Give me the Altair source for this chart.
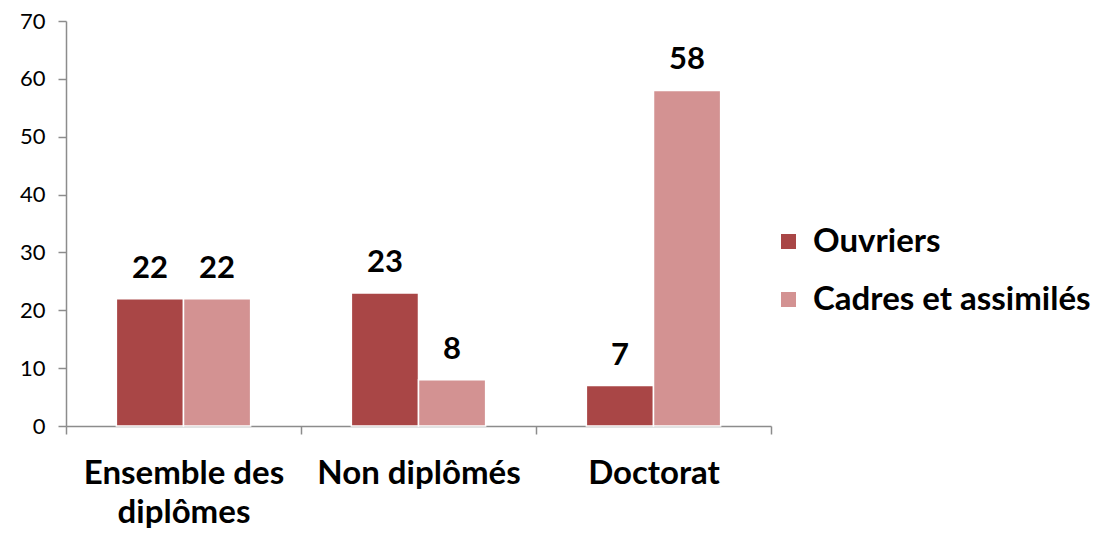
import altair as alt
import pandas as pd

categories = ["Ensemble des diplômes", "Non diplômés", "Doctorat"]
series = ["Ouvriers", "Cadres et assimilés"]
ouvriers = [22, 23, 7]
cadres = [22, 8, 58]
colors = ["#A94646", "#D39292"]

rows = []
for c, o, k in zip(categories, ouvriers, cadres):
    rows.append({"cat": c, "serie": series[0], "val": o})
    rows.append({"cat": c, "serie": series[1], "val": k})
df = pd.DataFrame(rows)

FONT = "Lato"

x = alt.X("cat:N", sort=categories, title=None,
          scale=alt.Scale(paddingInner=0, paddingOuter=0),
          axis=alt.Axis(labelAngle=0, labelFontSize=33, labelFontWeight="bold",
                        labelColor="#000000", labelFont=FONT, labelPadding=23,
                        labelLineHeight=39, labelBaseline="top", labelLimit=0,
                        labelExpr="datum.value == 'Ensemble des diplômes' ? ['Ensemble des', 'diplômes'] : datum.value",
                        tickBand="extent", tickSize=8, tickColor="#8c8c8c",
                        domainColor="#8c8c8c", domainWidth=1.5, tickWidth=1.5))
xo = alt.XOffset("serie:N", sort=series,
                 scale=alt.Scale(paddingInner=0, paddingOuter=0.75))
y = alt.Y("val:Q", title=None,
          scale=alt.Scale(domain=[0, 70]),
          axis=alt.Axis(values=list(range(0, 71, 10)), labelFontSize=22,
                        labelFont=FONT, labelColor="#000000", labelPadding=13,
                        tickSize=8, tickColor="#8c8c8c", domainColor="#8c8c8c",
                        domainWidth=1.5, tickWidth=1.5, grid=False))
color = alt.Color("serie:N", sort=series,
                  scale=alt.Scale(domain=series, range=colors),
                  legend=alt.Legend(title=None, orient="none", legendX=706, legendY=204,
                                    symbolType="square", symbolSize=225,
                                    symbolStrokeWidth=0, labelLimit=0,
                                    labelFontSize=33, labelFontWeight="bold",
                                    labelFont=FONT, labelColor="#000000",
                                    rowPadding=24, labelOffset=8))

bars = alt.Chart(df).mark_bar(stroke="white", strokeWidth=1.5).encode(
    x=x, xOffset=xo, y=y, color=color)
labels = alt.Chart(df).mark_text(fontSize=31, fontWeight="bold", font=FONT,
                                 baseline="alphabetic", dy=-21, color="#000000").encode(
    x=x, xOffset=xo, y=y, text="val:Q")

chart = (bars + labels).properties(
    width=705, height=405, background="white",
    autosize=alt.AutoSizeParams(type="none"),
    padding={"left": 58, "top": 13, "right": 340, "bottom": 110},
).configure_view(strokeWidth=0, stroke=None)

chart.save("out.html", embed_options={"renderer": "svg", "actions": False})
